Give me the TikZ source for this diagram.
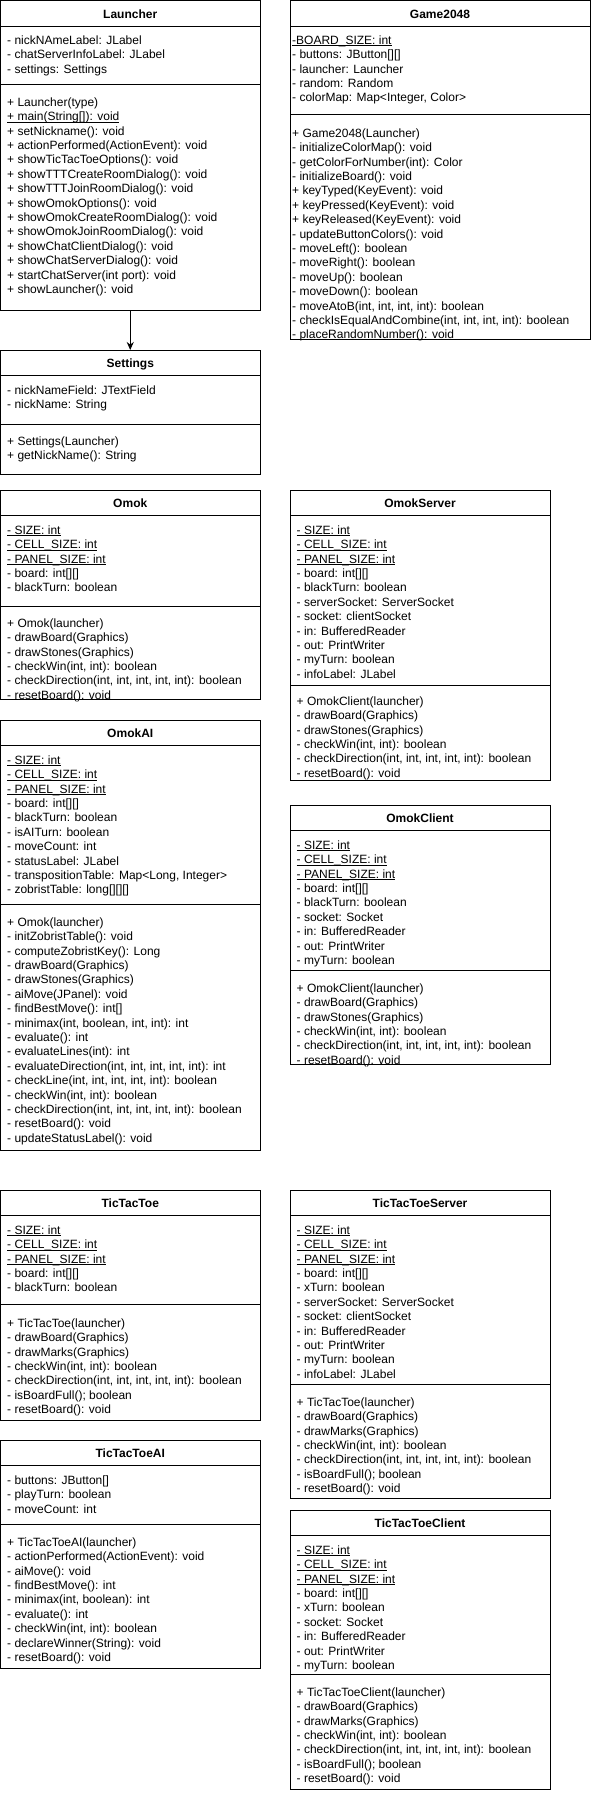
\documentclass[tikz,border=0pt]{standalone}
\usepackage{fontspec}
\setmainfont{Liberation Sans}
\usepackage{tikz}
\usetikzlibrary{calc,arrows.meta,positioning}
\newcommand{\umlfont}{\fontsize{12}{14.4}\selectfont}
% underlined (static) member
\newcommand{\staticm}[1]{\setbox0\hbox{#1}\rlap{\rule[-1.6pt]{\wd0}{0.7pt}}\box0}
\tikzset{
  classframe/.style={draw,line width=1pt,inner sep=0pt,outer sep=0pt,anchor=north west},
  classline/.style={line width=1pt},
  classtitle/.style={font=\umlfont\bfseries,anchor=base,inner sep=0pt},
  member/.style={font=\umlfont,anchor=base west,inner sep=0pt},
  ar/.style={-{Stealth[length=8pt,width=7pt]},line width=1pt}
}
% name, left, right, top, divider, bottom, title
\newcommand{\classbox}[7]{%
  \node[classframe,minimum width={#3-#2},minimum height={#6-#4}] (#1) at (#2,-#4) {};
  \draw[classline] (#2,-#4-25.5) -- (#3,-#4-25.5);
  \draw[classline] (#2,-#5) -- (#3,-#5);
  \node[classtitle] (#1-title) at ($(#1.north)+(0,-17.5)$) {#7};
}
% prefix, x, first line, lines
\newcommand{\members}[4]{%
  \foreach \m [count=\i from 0] in {#4}
    \node[member] (#1\i) at (#2,-#3-4.3-\i*14.4) {\m};
}

\begin{document}
\begin{tikzpicture}[x=1pt,y=1pt]
\fill[white] (0,0) rectangle (591,-1794);

% Launcher
\classbox{launcher}{0.5}{260}{0.5}{84}{310}{Launcher}
\members{launcher-a}{7}{40}{{- nickNAmeLabel: JLabel},{- chatServerInfoLabel: JLabel},{- settings: Settings}}
\members{launcher-m}{7}{102}{{+ Launcher(type)},{\staticm{+ main(String[]): void}},{+ setNickname(): void},
  {+ actionPerformed(ActionEvent): void},{+ showTicTacToeOptions(): void},{+ showTTTCreateRoomDialog(): void},
  {+ showTTTJoinRoomDialog(): void},{+ showOmokOptions(): void},{+ showOmokCreateRoomDialog(): void},
  {+ showOmokJoinRoomDialog(): void},{+ showChatClientDialog(): void},{+ showChatServerDialog(): void},
  {+ startChatServer(int port): void},{+ showLauncher(): void}}

% Game2048
\classbox{game}{290}{590}{0.5}{114}{339}{Game2048}
\members{game-a}{292}{40}{{\staticm{-BOARD\_SIZE: int}},{- buttons: JButton[][]},{- launcher: Launcher},
  {- random: Random},{- colorMap: Map<Integer, Color>}}
\members{game-m}{292}{133}{{+ Game2048(Launcher)},{- initializeColorMap(): void},{- getColorForNumber(int): Color},
  {- initializeBoard(): void},{+ keyTyped(KeyEvent): void},{+ keyPressed(KeyEvent): void},
  {+ keyReleased(KeyEvent): void},{- updateButtonColors(): void},{- moveLeft(): boolean},
  {- moveRight(): boolean},{- moveUp(): boolean},{- moveDown(): boolean},
  {- moveAtoB(int, int, int, int): boolean},{- checkIsEqualAndCombine(int, int, int, int): boolean},
  {- placeRandomNumber(): void}}

% Settings
\classbox{settings}{0.5}{260}{350}{424}{474}{Settings}
\members{settings-a}{7}{390}{{- nickNameField: JTextField},{- nickName: String}}
\members{settings-m}{7}{441}{{+ Settings(Launcher)},{+ getNickName(): String}}

\draw[ar] (launcher.south) -- (settings.north);

% Omok
\classbox{omok}{0.5}{260}{490}{606}{699}{Omok}
\members{omok-a}{7}{530}{{\staticm{- SIZE: int}},{\staticm{- CELL\_SIZE: int}},{\staticm{- PANEL\_SIZE: int}},
  {- board: int[][]},{- blackTurn: boolean}}
\members{omok-m}{7}{623}{{+ Omok(launcher)},{- drawBoard(Graphics)},{- drawStones(Graphics)},
  {- checkWin(int, int): boolean},{- checkDirection(int, int, int, int, int): boolean},{- resetBoard(): void}}

% OmokServer
\classbox{omokserver}{290}{550}{490}{685}{780}{OmokServer}
\members{omokserver-a}{296.5}{530}{{\staticm{- SIZE: int}},{\staticm{- CELL\_SIZE: int}},{\staticm{- PANEL\_SIZE: int}},
  {- board: int[][]},{- blackTurn: boolean},{- serverSocket: ServerSocket},{- socket: clientSocket},
  {- in: BufferedReader},{- out: PrintWriter},{- myTurn: boolean},{- infoLabel: JLabel}}
\members{omokserver-m}{296.5}{701}{{+ OmokClient(launcher)},{- drawBoard(Graphics)},{- drawStones(Graphics)},
  {- checkWin(int, int): boolean},{- checkDirection(int, int, int, int, int): boolean},{- resetBoard(): void}}

% OmokAI
\classbox{omokai}{0.5}{260}{720}{904}{1150}{OmokAI}
\members{omokai-a}{7}{760}{{\staticm{- SIZE: int}},{\staticm{- CELL\_SIZE: int}},{\staticm{- PANEL\_SIZE: int}},
  {- board: int[][]},{- blackTurn: boolean},{- isAITurn: boolean},{- moveCount: int},{- statusLabel: JLabel},
  {- transpositionTable: Map<Long, Integer>},{- zobristTable: long[][][]}}
\members{omokai-m}{7}{922}{{+ Omok(launcher)},{- initZobristTable(): void},{- computeZobristKey(): Long},
  {- drawBoard(Graphics)},{- drawStones(Graphics)},{- aiMove(JPanel): void},{- findBestMove(): int[]},
  {- minimax(int, boolean, int, int): int},{- evaluate(): int},{- evaluateLines(int): int},
  {- evaluateDirection(int, int, int, int, int): int},{- checkLine(int, int, int, int, int): boolean},
  {- checkWin(int, int): boolean},{- checkDirection(int, int, int, int, int): boolean},
  {- resetBoard(): void},{- updateStatusLabel(): void}}

% OmokClient
\classbox{omokclient}{290}{550}{805}{970}{1064}{OmokClient}
\members{omokclient-a}{296.5}{845}{{\staticm{- SIZE: int}},{\staticm{- CELL\_SIZE: int}},{\staticm{- PANEL\_SIZE: int}},
  {- board: int[][]},{- blackTurn: boolean},{- socket: Socket},{- in: BufferedReader},
  {- out: PrintWriter},{- myTurn: boolean}}
\members{omokclient-m}{296.5}{988}{{+ OmokClient(launcher)},{- drawBoard(Graphics)},{- drawStones(Graphics)},
  {- checkWin(int, int): boolean},{- checkDirection(int, int, int, int, int): boolean},{- resetBoard(): void}}

% TicTacToe
\classbox{ttt}{0.5}{260}{1190}{1304}{1420}{TicTacToe}
\members{ttt-a}{7}{1230}{{\staticm{- SIZE: int}},{\staticm{- CELL\_SIZE: int}},{\staticm{- PANEL\_SIZE: int}},
  {- board: int[][]},{- blackTurn: boolean}}
\members{ttt-m}{7}{1323}{{+ TicTacToe(launcher)},{- drawBoard(Graphics)},{- drawMarks(Graphics)},
  {- checkWin(int, int): boolean},{- checkDirection(int, int, int, int, int): boolean},
  {- isBoardFull(); boolean},{- resetBoard(): void}}

% TicTacToeServer
\classbox{tttserver}{290}{550}{1190}{1384}{1498}{TicTacToeServer}
\members{tttserver-a}{296.5}{1230}{{\staticm{- SIZE: int}},{\staticm{- CELL\_SIZE: int}},{\staticm{- PANEL\_SIZE: int}},
  {- board: int[][]},{- xTurn: boolean},{- serverSocket: ServerSocket},{- socket: clientSocket},
  {- in: BufferedReader},{- out: PrintWriter},{- myTurn: boolean},{- infoLabel: JLabel}}
\members{tttserver-m}{296.5}{1402}{{+ TicTacToe(launcher)},{- drawBoard(Graphics)},{- drawMarks(Graphics)},
  {- checkWin(int, int): boolean},{- checkDirection(int, int, int, int, int): boolean},
  {- isBoardFull(); boolean},{- resetBoard(): void}}

% TicTacToeAI
\classbox{tttai}{0.5}{260}{1440}{1524}{1668}{TicTacToeAI}
\members{tttai-a}{7}{1480}{{- buttons: JButton[]},{- playTurn: boolean},{- moveCount: int}}
\members{tttai-m}{7}{1542}{{+ TicTacToeAI(launcher)},{- actionPerformed(ActionEvent): void},{- aiMove(): void},
  {- findBestMove(): int},{- minimax(int, boolean): int},{- evaluate(): int},{- checkWin(int, int): boolean},
  {- declareWinner(String): void},{- resetBoard(): void}}

% TicTacToeClient
\classbox{tttclient}{290}{550}{1510}{1674}{1789}{TicTacToeClient}
\members{tttclient-a}{296.5}{1550}{{\staticm{- SIZE: int}},{\staticm{- CELL\_SIZE: int}},{\staticm{- PANEL\_SIZE: int}},
  {- board: int[][]},{- xTurn: boolean},{- socket: Socket},{- in: BufferedReader},
  {- out: PrintWriter},{- myTurn: boolean}}
\members{tttclient-m}{296.5}{1692}{{+ TicTacToeClient(launcher)},{- drawBoard(Graphics)},{- drawMarks(Graphics)},
  {- checkWin(int, int): boolean},{- checkDirection(int, int, int, int, int): boolean},
  {- isBoardFull(); boolean},{- resetBoard(): void}}
\end{tikzpicture}
\end{document}
